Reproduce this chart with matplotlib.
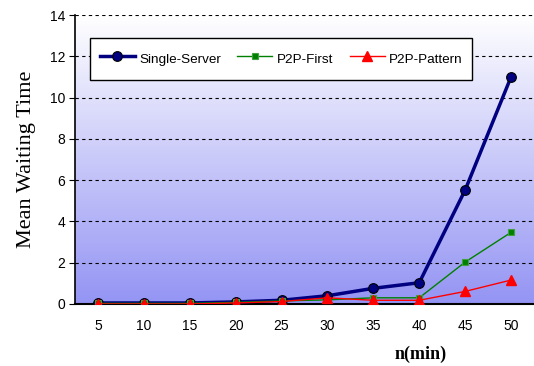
import numpy as np
import matplotlib
matplotlib.use('Agg')
import matplotlib.pyplot as plt
from matplotlib.colors import LinearSegmentedColormap

n_min = ['5', '10', '15', '20', '25', '30', '35', '40', '45', '50']
single_server = [0.05, 0.05, 0.05, 0.1, 0.18, 0.4, 0.76, 1.03, 5.52, 11.0]
p2p_first = [0.03, 0.03, 0.03, 0.08, 0.15, 0.2, 0.3, 0.3, 2.03, 3.47]
p2p_pattern = [0.0, 0.0, 0.0, 0.05, 0.12, 0.3, 0.18, 0.18, 0.61, 1.16]

fig = plt.figure(figsize=(5.34, 3.66), dpi=100)
ax = fig.add_axes([0.1404, 0.1694, 0.8596, 0.7896])

x = np.arange(len(n_min))

# background gradient, white at top to light blue at bottom
grad = LinearSegmentedColormap.from_list('bg', ['#ffffff', '#9494f4'])
ax.imshow(np.linspace(0, 1, 256).reshape(-1, 1), aspect='auto', cmap=grad,
          extent=[-0.5, len(n_min) - 0.5, 0, 14], origin='upper', zorder=0)
ax.set_xlim(-0.5, len(n_min) - 0.5)
ax.set_ylim(0, 14)

ax.set_yticks(range(0, 15, 2))
for yv in range(2, 15, 2):
    ax.axhline(yv, color='black', linestyle=(0, (3, 3)), linewidth=0.8, zorder=1)

ax.plot(x, single_server, color='#000080', linewidth=2.5, marker='o', markersize=7,
        markerfacecolor='#000080', markeredgecolor='black', markeredgewidth=0.8,
        label='Single-Server', zorder=3)
ax.plot(x, p2p_first, color='#008000', linewidth=1, marker='s', markersize=5,
        markerfacecolor='#008000', markeredgecolor='#40a040', markeredgewidth=0.8,
        label='P2P-First', zorder=4)
ax.plot(x, p2p_pattern, color='#ff0000', linewidth=1, marker='^', markersize=7,
        markerfacecolor='#ff0000', markeredgecolor='#ff0000',
        label='P2P-Pattern', zorder=5)

ax.set_xticks(x)
ax.set_xticklabels(n_min, fontsize=10, family='Liberation Sans')
ax.tick_params(axis='x', length=0, pad=11)
ax.tick_params(axis='y', length=4, direction='out', labelsize=10, pad=3)
for lbl in ax.get_yticklabels():
    lbl.set_family('Liberation Sans')

for s in ['top', 'right']:
    ax.spines[s].set_visible(False)
ax.spines['left'].set_linewidth(1.2)
ax.spines['bottom'].set_linewidth(1.5)

ax.set_ylabel('Mean Waiting Time', fontsize=16, family='Liberation Serif', labelpad=10)
fig.text(0.787, 0.02, 'n(min)', fontsize=13, fontweight='bold',
         family='Liberation Serif', ha='center')

leg = ax.legend(loc='upper left', bbox_to_anchor=(0.033, 0.92), ncol=3,
                frameon=True, fancybox=False, edgecolor='black',
                framealpha=1, borderpad=0.7, borderaxespad=0, columnspacing=1.2,
                handlelength=2.6, handletextpad=0.35, handleheight=2.3,
                prop={'family': 'Liberation Sans', 'size': 9.7})
leg.get_frame().set_linewidth(1)
leg.get_frame().set_facecolor('white')

fig.savefig('out.png', dpi=100)
